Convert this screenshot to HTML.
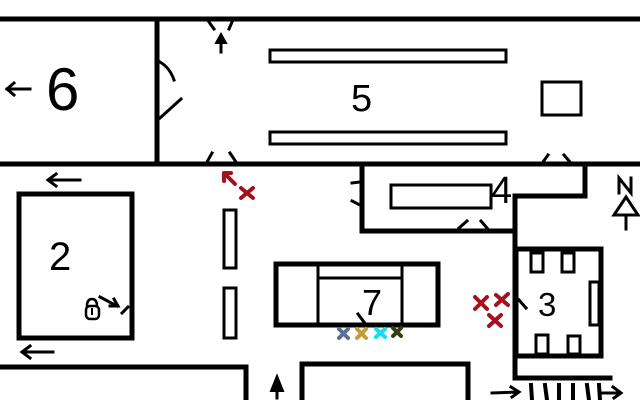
<!DOCTYPE html>
<html><head><meta charset="utf-8"><style>
html,body{margin:0;padding:0;background:#fff;}
svg{display:block}
text{font-family:"Liberation Sans",sans-serif;}
</style></head><body>
<svg width="640" height="400" viewBox="0 0 640 400" xmlns="http://www.w3.org/2000/svg">
<g fill="none" stroke="#000" stroke-linecap="square">
<line x1="0" y1="19" x2="640" y2="19" stroke-width="5"/>
<line x1="0" y1="164" x2="640" y2="164" stroke-width="5"/>
<line x1="157" y1="19" x2="157" y2="164" stroke-width="5"/>
<path d="M209 22 L214 29 M232 22 L229 29" stroke-width="3"/>
<path d="M221 52 L221 38" stroke-width="3"/>
<path d="M216 43 L221 34 L226 43 Z" fill="#000" stroke-width="2"/>
<path d="M160 62 Q170 68 174 80" stroke-width="3"/>
<path d="M160 118 L181 99" stroke-width="3"/>
<path d="M207 162 L212 153 M230 153 L236 162" stroke-width="3"/>
<path d="M543 162 L548 155 M564 155 L570 162" stroke-width="3"/>
<rect x="270" y="50" width="236" height="12" stroke-width="3"/>
<rect x="270" y="132" width="236" height="12" stroke-width="3"/>
<rect x="542" y="82" width="39" height="33" stroke-width="3"/>
<path d="M30 89 L7 89 M14 83 L7 89 L14 95" stroke-width="3"/>
<path d="M362 164 L362 231 L515 231 L515 196 L585 196 L585 164" stroke-width="5"/>
<rect x="391" y="185" width="100" height="23" stroke-width="3"/>
<path d="M352 183 L360 182 M352 201 L360 205" stroke-width="3"/>
<path d="M459 228 L467 221 M481 221 L487 228" stroke-width="3"/>
<line x1="515" y1="196" x2="515" y2="378" stroke-width="5"/>
<line x1="515" y1="378" x2="610" y2="378" stroke-width="5"/>
<rect x="516" y="249" width="85" height="107" stroke-width="5"/>
<rect x="531" y="253" width="12" height="19" stroke-width="3"/>
<rect x="562" y="253" width="12" height="19" stroke-width="3"/>
<rect x="536" y="335" width="12" height="19" stroke-width="3"/>
<rect x="568" y="336" width="12" height="18" stroke-width="3"/>
<rect x="590" y="282" width="9" height="43" stroke-width="3"/>
<path d="M519 300 L526 308" stroke-width="3"/>
<path d="M531 385 L532 400 M545 385 L547 400 M559 385 L559 400 M573 385 L573 400 M587 385 L589 400 M599 385 L600 400" stroke-width="4"/>
<path d="M492 393 L518 392 M511 387 L519 392 L512 397" stroke-width="3"/>
<path d="M603 393 L620 393 M613 387 L621 393 L614 398" stroke-width="3"/>
<path d="M619 193 L619 178 L631 193 L631 178" stroke-width="3"/>
<path d="M626 197 L614 215 L638 215 Z M626 215 L626 229" stroke-width="3"/>
<rect x="276" y="264" width="162" height="61" stroke-width="5"/>
<path d="M318 264 L318 325 M402 264 L402 325 M318 278 L402 278" stroke-width="3"/>
<path d="M358 314 L364 322" stroke-width="3"/>
<rect x="19" y="194" width="113" height="144" stroke-width="5"/>
<path d="M80 180 L49 180 M56 174 L48 180 L56 186" stroke-width="3"/>
<path d="M53 352 L23 352 M30 346 L22 352 L30 358" stroke-width="3"/>
<path d="M87 306 Q87 299 92 299 Q97 299 97 306" stroke-width="2.5"/>
<rect x="86" y="306" width="13" height="13" rx="4" stroke-width="2.5"/>
<line x1="92" y1="309" x2="92" y2="314" stroke-width="2"/>
<path d="M100 297 L117 306 M110 306 L118 306 L114 299" stroke-width="3"/>
<path d="M122 313 L128 307" stroke-width="3"/>
<rect x="224" y="210" width="12" height="58" stroke-width="3"/>
<rect x="224" y="288" width="12" height="50" stroke-width="3"/>
<path d="M0 367 L246 367 L246 400" stroke-width="5"/>
<path d="M302 400 L302 364 L468 364 L468 400" stroke-width="5"/>
<path d="M277 398 L277 384" stroke-width="3"/>
<path d="M271 391 L277 376 L283 391 Z" fill="#000" stroke-width="2"/>
</g>
<g stroke="#a3101f" stroke-width="4" stroke-linecap="round" fill="none">
<path d="M226 175 L235 184"/>
<path d="M224 173 L231 173 M224 173 L224 181"/>
<path d="M241 188 L253 198 M253 188 L241 198"/>
<path d="M475 297 L487 309 M487 297 L475 309"/>
<path d="M496 295 L508 305 M508 294 L496 305"/>
<path d="M489 315 L501 326 M501 315 L489 326"/>
</g>
<g stroke-width="4" stroke-linecap="round" fill="none">
<path d="M339 329 L348 338 M348 329 L339 338" stroke="#5a6e96"/>
<path d="M357 329 L366 338 M366 329 L357 338" stroke="#c49a3a"/>
<path d="M376 329 L385 337 M385 329 L376 337" stroke="#10e0f0"/>
<path d="M393 328 L401 336 M401 328 L393 336" stroke="#2e3f12"/>
</g>
<g fill="#000">
<text x="46" y="110" font-size="60">6</text>
<text x="351" y="111" font-size="38">5</text>
<text x="491" y="203" font-size="38">4</text>
<text x="49" y="270" font-size="40">2</text>
<text x="538" y="316" font-size="33">3</text>
<text x="362" y="315" font-size="36">7</text>
</g>
</svg>
</body></html>
